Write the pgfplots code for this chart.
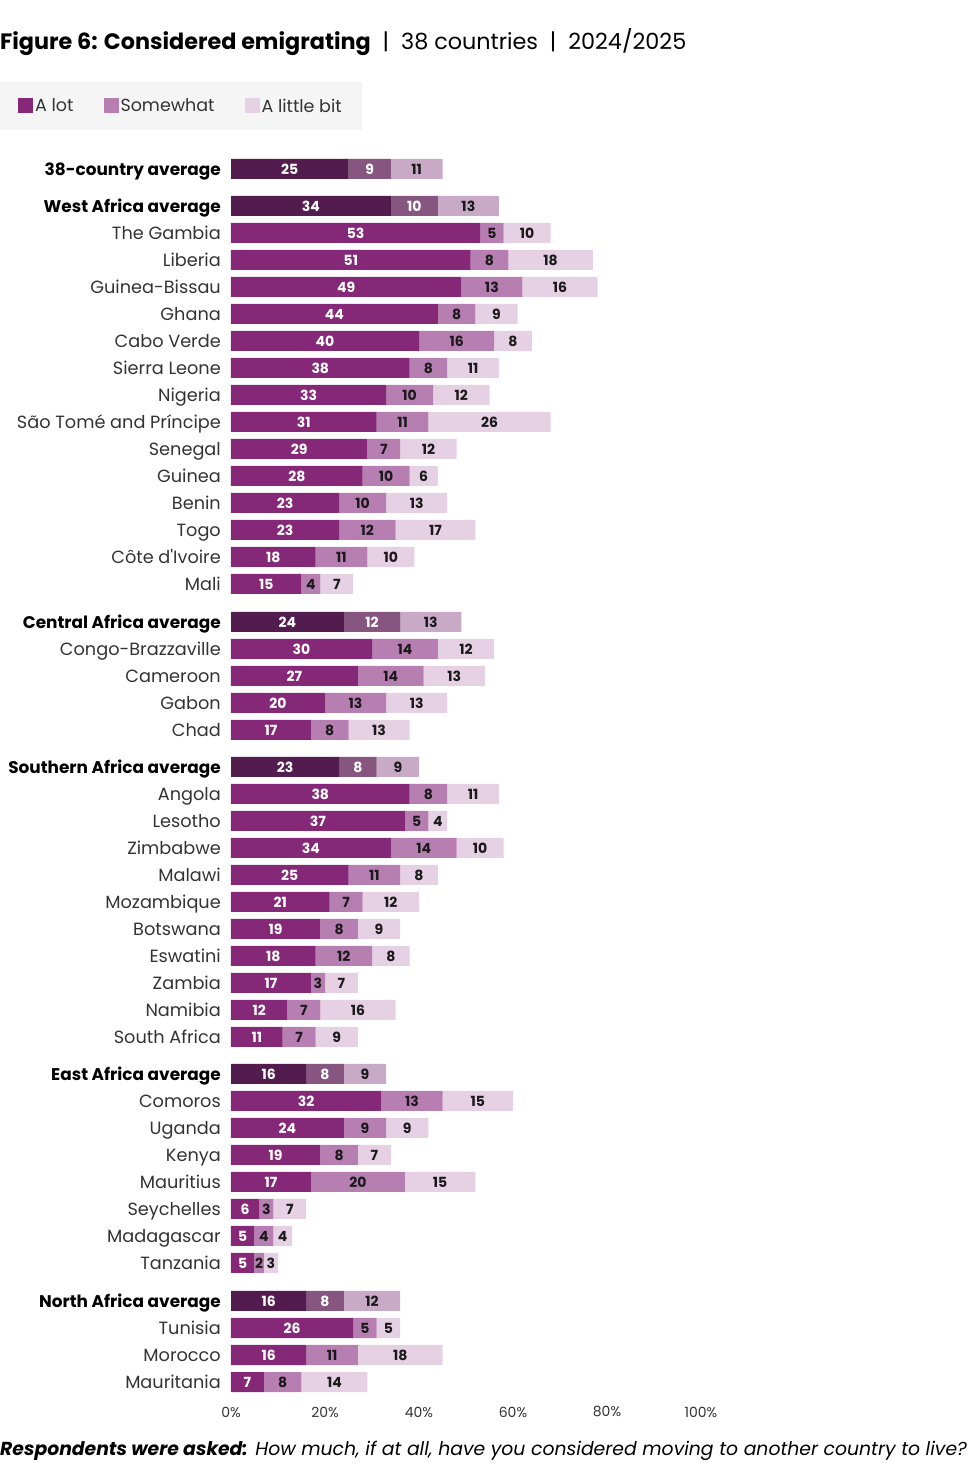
\documentclass[border=0pt]{standalone}
\usepackage{pgfplots}
\pgfplotsset{compat=1.18}
\usepackage{pgfplotstable}
\usepackage{fontspec}
\setmainfont{Poppins}
\definecolor{avgA}{HTML}{521C4E}
\definecolor{avgB}{HTML}{865580}
\definecolor{avgC}{HTML}{C8A9C6}
\definecolor{cA}{HTML}{862878}
\definecolor{cB}{HTML}{B77EB2}
\definecolor{cC}{HTML}{E6D0E3}
\definecolor{txt}{HTML}{1A1A1A}
\definecolor{lab}{HTML}{333333}
\newcommand{\B}[1]{{\fontsize{16.9bp}{20bp}\selectfont\bfseries\color{black}#1}}
\pgfplotstableread{
y a b c
-169 25 9 11
-206 34 10 13
-622 24 12 13
-767 23 8 9
-1074 16 8 9
-1301 16 8 12
}\avgdata
\pgfplotstableread{
y a b c
-233 53 5 10
-260 51 8 18
-287 49 13 16
-314 44 8 9
-341 40 16 8
-368 38 8 11
-395 33 10 12
-422 31 11 26
-449 29 7 12
-476 28 10 6
-503 23 10 13
-530 23 12 17
-557 18 11 10
-584 15 4 7
-649 30 14 12
-676 27 14 13
-703 20 13 13
-730 17 8 13
-794 38 8 11
-821 37 5 4
-848 34 14 10
-875 25 11 8
-902 21 7 12
-929 19 8 9
-956 18 12 8
-983 17 3 7
-1010 12 7 16
-1037 11 7 9
-1101 32 13 15
-1128 24 9 9
-1155 19 8 7
-1182 17 20 15
-1209 6 3 7
-1236 5 4 4
-1263 5 2 3
-1328 26 5 5
-1355 16 11 18
-1382 7 8 14
}\ctrydata
\pgfplotsset{
  common/.style={
    x=4.7bp, y=1bp,
    xmin=0, xmax=100, ymin=-1412, ymax=-150,
    clip=false,
    xbar stacked, bar width=20bp,
    point meta=explicit symbolic,
    nodes near coords style={anchor=center, inner sep=0pt,
      font=\bfseries\fontsize{14bp}{16bp}\selectfont},
  },
}
\begin{document}
\begin{tikzpicture}
\begin{axis}[common,
  axis lines*=left, axis line style={draw=none},
  major tick length=0pt,
  xtick={0,20,40,60,80,100},
  xticklabels={0\%,20\%,40\%,60\%,80\%,100\%},
  x tick label style={anchor=center, inner sep=0pt, text=lab,
    font=\fontsize{14bp}{16bp}\selectfont},
  ytick={-169,-206,-233,-260,-287,-314,-341,-368,-395,-422,-449,-476,-503,-530,-557,-584,-622,-649,-676,-703,-730,-767,-794,-821,-848,-875,-902,-929,-956,-983,-1010,-1037,-1074,-1101,-1128,-1155,-1182,-1209,-1236,-1263,-1301,-1328,-1355,-1382},
  yticklabels={\B{38-country average},\B{West Africa average},The Gambia,Liberia,Guinea-Bissau,Ghana,Cabo Verde,Sierra Leone,Nigeria,São Tomé and Príncipe,Senegal,Guinea,Benin,Togo,Côte d\textquotesingle Ivoire,Mali,\B{Central Africa average},Congo-Brazzaville,Cameroon,Gabon,Chad,\B{Southern Africa average},Angola,Lesotho,Zimbabwe,Malawi,Mozambique,Botswana,Eswatini,Zambia,Namibia,South Africa,\B{East Africa average},Comoros,Uganda,Kenya,Mauritius,Seychelles,Madagascar,Tanzania,\B{North Africa average},Tunisia,Morocco,Mauritania},
  y tick label style={anchor=mid east, inner sep=0pt, xshift=-10bp, yshift=-4bp, text=lab,
    font=\fontsize{17.7bp}{20bp}\selectfont},
  legend columns=3,
  legend cell align=left,
  legend image code/.code={\fill[#1] (0bp,-7bp) rectangle (15bp,8bp);},
  legend style={at={(-0.49149,1.05388)}, anchor=north west,
    fill=black!4, draw=none, inner xsep=18bp, inner ysep=14.5bp,
    font=\fontsize{17.5bp}{20bp}\selectfont, text=lab,
    /tikz/every even column/.append style={column sep=28bp}},
]
\addplot[fill=cA, draw=none, nodes near coords, nodes near coords style={text=white}] table[x=a,y=y,meta=a]{\ctrydata};
\addplot[fill=cB, draw=none, nodes near coords, nodes near coords style={text=txt}] table[x=b,y=y,meta=b]{\ctrydata};
\addplot[fill=cC, draw=none, nodes near coords, nodes near coords style={text=txt}] table[x=c,y=y,meta=c]{\ctrydata};
\legend{A lot,Somewhat,A little bit}
\coordinate (TL) at (axis cs:-49.149,0);
\coordinate (BR) at (axis cs:159.36,-1463);
\node[anchor=base west, inner sep=0pt, font=\fontsize{22.3bp}{26bp}\selectfont] at (axis cs:-49.149,-50) {\textbf{Figure 6: Considered emigrating}\ \ |\ \ 38 countries\ \ |\ \ 2024/2025};
\node[anchor=base west, inner sep=0pt, font=\fontsize{18.8bp}{22bp}\selectfont\itshape] at (axis cs:-49.149,-1455) {\textbf{Respondents were asked:} How much, if at all, have you considered moving to another country to live?};
\end{axis}
\begin{axis}[common, hide axis]
\addplot[fill=avgA, draw=none, nodes near coords, nodes near coords style={text=white}] table[x=a,y=y,meta=a]{\avgdata};
\addplot[fill=avgB, draw=none, nodes near coords, nodes near coords style={text=white}] table[x=b,y=y,meta=b]{\avgdata};
\addplot[fill=avgC, draw=none, nodes near coords, nodes near coords style={text=txt}] table[x=c,y=y,meta=c]{\avgdata};
\end{axis}
\pgfresetboundingbox
\useasboundingbox (TL) rectangle (BR);
\end{tikzpicture}
\end{document}
